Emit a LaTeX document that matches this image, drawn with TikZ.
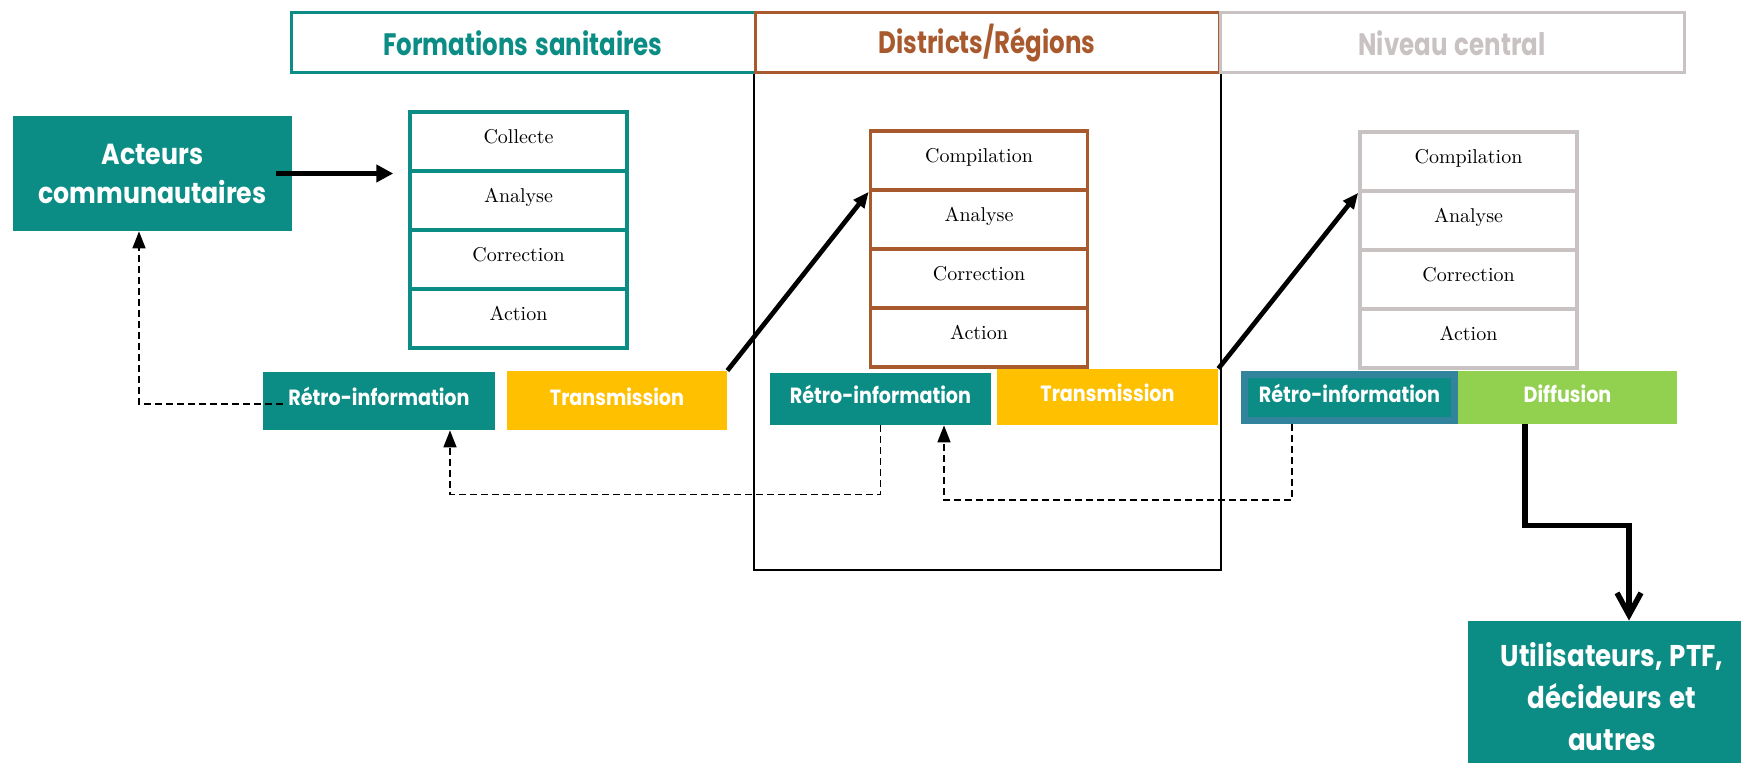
\documentclass[tikz,border=0pt]{standalone}
\usepackage{fontspec}
\newfontfamily\gothic{Poppins}[FakeStretch=0.87,WordSpace=1.3]
\newfontfamily\gothicN{Poppins}[FakeStretch=0.79,WordSpace=1.4]
\usepackage{tikz}
\usetikzlibrary{arrows.meta,positioning}
\definecolor{teal1}{RGB}{11,140,132}
\definecolor{brown1}{RGB}{168,89,45}
\definecolor{grey1}{RGB}{200,194,194}
\definecolor{yellow1}{RGB}{255,192,0}
\definecolor{green1}{RGB}{146,208,80}
\definecolor{blue1}{RGB}{49,132,155}
\newcommand*{\cellW}{108.5pt}
\newcommand*{\cellH}{29.5pt}

\begin{document}
\begin{tikzpicture}[x=0.5pt,y=-0.5pt,
  head/.style={rectangle,draw,line width=1.5pt,minimum width=232pt,minimum height=30pt,font=\gothicN\bfseries\fontsize{15.5}{18}\selectfont},
  cell/.style={rectangle,draw,line width=1.75pt,minimum width=\cellW,minimum height=\cellH,text height=7pt,text depth=5pt,font=\fontsize{10}{12}\selectfont},
  bar/.style={rectangle,text=white,font=\gothic\bfseries\fontsize{11}{13}\selectfont,text height=9pt,text depth=4pt},
  actor/.style={rectangle,fill=teal1,text=white,align=center,font=\gothic\bfseries\fontsize{14.5}{19.5}\selectfont},
  push/.style={line width=2.35pt,-{Triangle[length=8pt,width=6.5pt]}},
  fb/.style={dash pattern=on 3.5pt off 2pt,line width=0.8pt,-{Triangle[length=8.5pt,width=6.5pt]}}]
\useasboundingbox (0,0) rectangle (1741,763);

% levels
\node[head,draw=teal1,text=teal1] (hfs) at (523,43) {Formations sanitaires};
\node[head,draw=brown1,text=brown1] (hdr) at (987,43) {Districts/Régions};
\node[head,draw=grey1,text=grey1] (hnc) at (1452,43) {Niveau central};
\coordinate (dbot) at (988,570);
\draw[line width=1pt] (hdr.south west) |- (dbot) -| (hdr.south east);

% stacks
\foreach \t [count=\i] in {Collecte,Analyse,Correction,Action}
  \node[cell,draw=teal1] (fs\i) at (518.5,{82.5+59*\i}) {\t};
\foreach \t [count=\i] in {Compilation,Analyse,Correction,Action}{
  \node[cell,draw=brown1] (dr\i) at (979,{101.5+59*\i}) {\t};
  \node[cell,draw=grey1] (nc\i) at (1468.5,{102.5+59*\i}) {\t};
}

\node[actor,minimum width=139.5pt,minimum height=57.5pt] (act) at (152.5,173.5) {Acteurs\\communautaires};
\node[actor,minimum width=144pt,minimum height=76pt,font=\gothic\bfseries\fontsize{15}{21}\selectfont] (usr) at (1612,697) {Utilisateurs, PTF,\\décideurs et\\autres};

% bars
\node[bar,fill=teal1,minimum width=116pt,minimum height=29pt] (r1) at (379,401) {Rétro-information};
\node[bar,fill=yellow1,minimum width=110pt,minimum height=29.5pt] (t1) at (617,400.5) {Transmission};
\node[bar,fill=teal1,minimum width=110.5pt,minimum height=26pt] (r2) at (880.5,399) {Rétro-information};
\node[bar,fill=yellow1,minimum width=110.5pt,minimum height=28pt] (t2) at (1107.5,397) {Transmission};
\node[bar,fill=teal1,draw=blue1,line width=3.5pt,minimum width=105pt,minimum height=23pt] (r3) at (1349.5,397.5) {Rétro-information};
\node[bar,fill=green1,minimum width=109.5pt,minimum height=26.5pt] (dif) at (1567.5,397.5) {Diffusion};

% flows
\draw[push,-{Triangle[length=8.5pt,width=8.5pt]}] ([xshift=-8pt]act.east) -- ([xshift=-7.5pt]act.east -| fs1.west);
\draw[push] (t1.north east) -- (dr1.south west);
\draw[push] (t2.north east) -- (nc1.south west);
\draw[line width=2.75pt,-{Straight Barb[length=11pt,width=12pt]}] ([xshift=-21.25pt]dif.south) -- ++(0,101) -| ([xshift=8.5pt]usr.north);

% feedback
\draw[fb] ([xshift=10pt,yshift=-1.5pt]r1.west) -| ([xshift=-6.75pt]act.south);
\draw[fb] (r2.south) -- ++(0,69) -| ([xshift=35.5pt]r1.south);
\draw[fb] ([xshift=-28.75pt]r3.south) -- ++(0,76) -| ([xshift=31.75pt]r2.south);
\end{tikzpicture}
\end{document}
